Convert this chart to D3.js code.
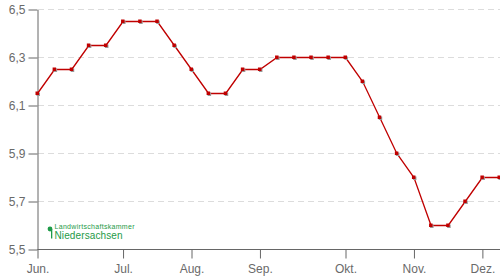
<!DOCTYPE html>
<html>
<head>
<meta charset="utf-8">
<script src="https://cdn.jsdelivr.net/npm/d3@7"></script>
<style>
  body { margin: 0; background: #fff; }
  svg { display: block; }
  .axis text { font-family: "Liberation Sans", Arial, sans-serif; font-size: 12px; fill: #6a6a6a; }
  .axis path, .axis line { stroke: #666; }
</style>
</head>
<body>
<div id="chart"></div>
<script>
// weekly prices, Jun. - Dez.
var values = [6.15, 6.25, 6.25, 6.35, 6.35, 6.45, 6.45, 6.45, 6.35, 6.25,
  6.15, 6.15, 6.25, 6.25, 6.30, 6.30, 6.30, 6.30, 6.30, 6.20,
  6.05, 5.90, 5.80, 5.60, 5.60, 5.70, 5.80, 5.80];
var monthLabels = ["Jun.", "Jul.", "Aug.", "Sep.", "Okt.", "Nov.", "Dez."];
var monthWeek = [0, 5, 9, 13, 18, 22, 26];
var yTicks = [5.5, 5.7, 5.9, 6.1, 6.3, 6.5];

var svgWidth = 500, svgHeight = 280;

var svg = d3.select("#chart")
  .append("svg")
  .attr("width", svgWidth)
  .attr("height", svgHeight);

var xScale = d3.scalePoint()
  .domain(d3.range(values.length))
  .range([37.5, 499.5]);

var yScale = d3.scaleLinear()
  .domain([5.5, 6.5])
  .range([249.5, 9.5]);

var fmt = function(d) { return d3.format(".1f")(d).replace(".", ","); };

// dashed grid lines
svg.append("g")
  .selectAll("line")
  .data(yTicks.slice(1))
  .enter()
  .append("line")
  .attr("x1", 38)
  .attr("x2", svgWidth)
  .attr("y1", d => yScale(d))
  .attr("y2", d => yScale(d))
  .attr("stroke", "#dcdcdc")
  .attr("stroke-dasharray", "6,4");

// y axis
var yAxis = d3.axisLeft(yScale)
  .tickValues(yTicks)
  .tickFormat(fmt)
  .tickSize(9)
  .tickSizeOuter(0)
  .tickPadding(3);
svg.append("g")
  .attr("class", "axis")
  .attr("transform", "translate(37.5,0)")
  .call(yAxis);

// x axis
var xAxis = d3.axisBottom(xScale)
  .tickValues(monthWeek)
  .tickFormat((d, i) => monthLabels[i])
  .tickSize(9)
  .tickSizeOuter(0)
  .tickPadding(6);
var gx = svg.append("g")
  .attr("class", "axis")
  .attr("transform", `translate(0,${yScale(5.5)})`)
  .call(xAxis);
gx.select(".domain").attr("d", `M37.5,0H${svgWidth}`);

// line
var line = d3.line()
  .x((d, i) => xScale(i))
  .y(d => yScale(d));

svg.append("path")
  .datum(values)
  .attr("d", line)
  .attr("fill", "none")
  .attr("stroke", "#c00000")
  .attr("stroke-width", 1.3);

// markers with small shadow
var marks = svg.append("g");
marks.selectAll(".shadow")
  .data(values)
  .enter()
  .append("rect")
  .attr("class", "shadow")
  .attr("x", (d, i) => xScale(i) - 1)
  .attr("y", d => yScale(d) - 1)
  .attr("width", 3.5)
  .attr("height", 3.5)
  .attr("fill", "#999");
marks.selectAll(".dot")
  .data(values)
  .enter()
  .append("rect")
  .attr("class", "dot")
  .attr("x", (d, i) => xScale(i) - 2)
  .attr("y", d => yScale(d) - 2)
  .attr("width", 3.5)
  .attr("height", 3.5)
  .attr("fill", "#c00000");

// logo
var logo = svg.append("g").attr("fill", "#1e9a48");
logo.append("circle").attr("cx", 50).attr("cy", 229).attr("r", 2.4);
logo.append("rect").attr("x", 51).attr("y", 229).attr("width", 1.3).attr("height", 9.5);
logo.append("text")
  .attr("x", 54.5)
  .attr("y", 228.5)
  .attr("font-family", "Liberation Sans, Arial, sans-serif")
  .attr("font-size", 7)
  .attr("textLength", 80)
  .text("Landwirtschaftskammer");
logo.append("text")
  .attr("x", 54.5)
  .attr("y", 239)
  .attr("font-family", "Liberation Sans, Arial, sans-serif")
  .attr("font-size", 10)
  .attr("textLength", 68)
  .text("Niedersachsen");
</script>
</body>
</html>
